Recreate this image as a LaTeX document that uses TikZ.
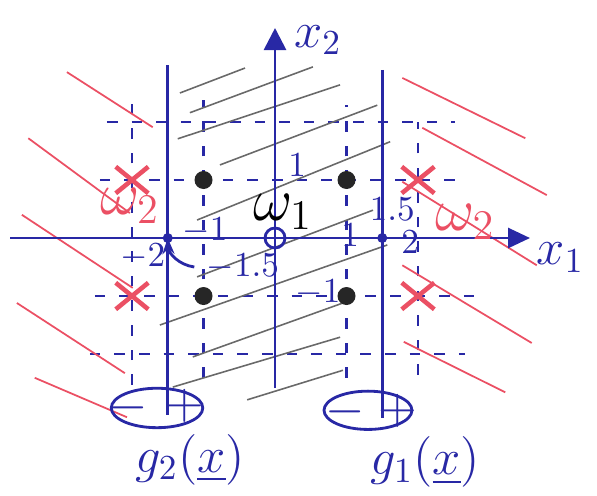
\documentclass[tikz,border=0pt]{standalone}
\usepackage{amsmath}
\usepackage{tikz}
\usetikzlibrary{arrows.meta, positioning, shapes.misc}

\definecolor{penblue}{RGB}{40,40,165}
\definecolor{penred}{RGB}{235,80,100}
\definecolor{pencil}{RGB}{105,105,105}

\begin{document}
\begin{tikzpicture}[x=0.715cm, y=0.58cm,
    gridline/.style={penblue, thick, dash pattern=on 3pt off 4pt},
    hatch/.style={pencil, line width=0.45pt},
    redline/.style={penred, line width=0.5pt},
    pone/.style={circle, fill=black!85, inner sep=0pt, minimum size=1.8mm},
    ptwo/.style={cross out, draw=penred, line width=1.3pt, inner sep=0pt,
        minimum width=2.8mm, minimum height=2.2mm},
    lbl/.style={penblue, font=\normalsize}]
    \useasboundingbox (-3.846,-4.431) rectangle (4.503,4.103);

    % dashed grid
    \foreach \x/\a/\b in {-2/-2.53/2.47, -1/-2.41/2.38, 1/-2.41/2.29, 2/-2.36/2.0}
        \draw[gridline] (\x,\a) -- (\x,\b);
    \foreach \y/\a/\b in {2/-2.35/2.52, 1/-2.45/2.59, -1/-2.52/2.8, -2/-2.59/2.66}
        \draw[gridline] (\a,\y) -- (\b,\y);

    % hatching between the two boundaries
    \foreach \xa/\ya/\xb/\yb in {-1.33/2.50/-0.42/2.93, -1.19/2.16/0.53/2.95,
                       -1.36/1.71/0.91/2.64, -0.77/1.26/1.43/2.29,
                       -1.09/0.31/1.61/1.66, -1.09/-0.67/1.37/0.48,
                       -1.61/-1.50/1.57/-0.12, -1.15/-2.05/0.95/-1.12,
                       -1.43/-2.57/0.91/-1.71, -0.39/-2.79/0.95/-2.28}
        \draw[hatch] (\xa,\ya) -- (\xb,\yb);

    % omega_2 side
    \foreach \xa/\ya/\xb/\yb in {-2.91/2.86/-1.71/1.91, -3.45/1.72/-2.03/0.43,
                       -3.54/0.40/-1.99/-0.86, -3.61/-1.12/-2.10/-2.33,
                       -3.36/-2.41/-2.07/-3.09, 1.78/2.76/3.50/1.72,
                       2.06/1.90/3.80/0.74, 1.78/0.97/3.66/-0.47,
                       1.78/-0.47/3.59/-1.81, 1.80/-1.79/3.22/-2.66}
        \draw[redline] (\xa,\ya) -- (\xb,\yb);

    % axes
    \draw[penblue, thick, -{Triangle[length=2.2mm, width=2mm]}] (-3.706,0) -- (3.566,0);
    \draw[penblue, thick, -{Triangle[length=2.2mm, width=2.2mm]}] (0,-2.586) -- (0,3.62);
    \node[penblue, font=\Large] (xone) at (3.99,-0.34) {$x_1$};
    \node[penblue, font=\Large] (xtwo) at (0.6,3.41) {$x_2$};

    % decision boundaries
    \draw[penblue, thick] (-1.5,2.98) -- (-1.5,-3.05);
    \draw[penblue, thick] (1.5,2.9) -- (1.5,-3.1);
    \coordinate (bl) at (-1.5,0);
    \coordinate (br) at (1.5,0);
    \fill[penblue] (bl) circle (0.5mm);
    \fill[penblue] (br) circle (0.5mm);
    \node[draw=penblue, thick, circle, inner sep=0pt, minimum size=2mm] (orig) at (0,0) {};

    % signs of g_2 and g_1
    \draw[penblue, thick] (-1.65,-2.93) ellipse [x radius=0.64, y radius=0.34];
    \node[penblue, font=\Large] (gtwominus) at (-2.05,-2.93) {$-$};
    \node[penblue, font=\Large] (gtwoplus) at (-1.26,-2.90) {$+$};
    \draw[penblue, thick] (1.30,-2.97) ellipse [x radius=0.615, y radius=0.33];
    \node[penblue, font=\Large] (goneminus) at (0.98,-3.00) {$-$};
    \node[penblue, font=\Large] (goneplus) at (1.72,-2.98) {$+$};
    \node[penblue, font=\Large] (gtwo) at (-1.19,-3.82) {$g_2(\underline{x})$};
    \node[penblue, font=\Large] (gone) at (2.10,-3.86) {$g_1(\underline{x})$};

    % samples
    \foreach \x/\y [count=\i] in {-1/1, 1/1, -1/-1, 1/-1}
        \node[pone] (a\i) at (\x,\y) {};
    \foreach \x/\y [count=\i] in {-2/1, 2/1, -2/-1, 2/-1}
        \node[ptwo] (b\i) at (\x,\y) {};

    % class labels
    \node[font=\LARGE] (wone) at (0.11,0.45) {$\omega_1$};
    \node[penred, font=\LARGE] (wtwol) at (-2.03,0.55) {$\omega_2$};
    \node[penred, font=\LARGE] (wtwor) at (2.66,0.28) {$\omega_2$};

    % ticks
    \node[lbl] (tm2) at (-1.85,-0.32) {$-2$};
    \node[lbl] (tm1) at (-0.98,0.12) {$-1$};
    \node[lbl] (tp1) at (1.05,0.05) {$1$};
    \node[lbl] (tp2) at (1.89,-0.07) {$2$};
    \node[lbl] (tp15) at (1.64,0.50) {$1.5$};
    \node[lbl] (tm15) at (-0.45,-0.50) {$-1.5$};
    \node[lbl] (ty1) at (0.31,1.26) {$1$};
    \node[lbl] (tym1) at (0.60,-0.95) {$-1$};
    \draw[penblue, thick, -{Stealth[length=1.6mm]}] (tm15.west) to[bend left=40] (bl);
\end{tikzpicture}
\end{document}
